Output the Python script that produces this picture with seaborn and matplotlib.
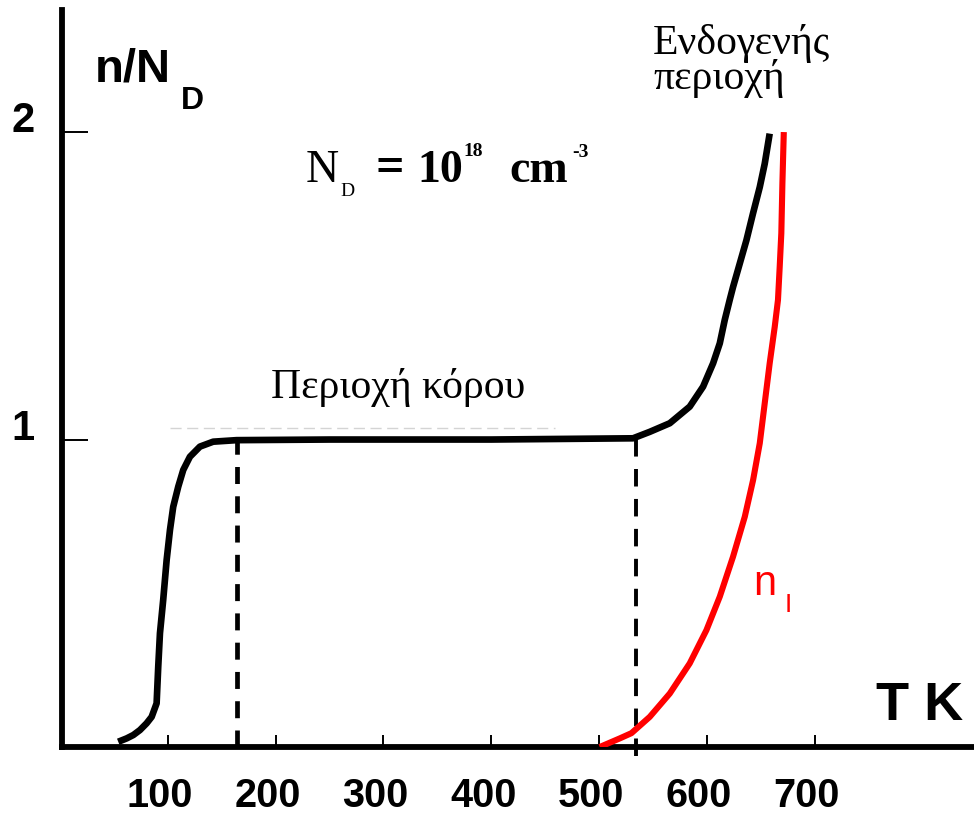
import matplotlib
matplotlib.use("Agg")
import matplotlib.pyplot as plt
import matplotlib.transforms as mtransforms
import seaborn as sns

# ---- data ----
T_black = [53.9, 61.7, 67.9, 74.0, 80.2, 84.9, 89.5, 91.0, 92.6, 95.6, 98.8, 101.9, 104.9,
           109.6, 114.2, 120.4, 129.7, 142.0, 163.7, 250.0, 400.0, 531.6, 547.1, 565.7,
           584.2, 596.6, 605.9, 612.1, 616.7, 621.3, 624.4, 630.6, 636.8, 642.9, 649.2,
           653.8, 658.4]
n_black = [0.017, 0.028, 0.039, 0.055, 0.077, 0.098, 0.142, 0.261, 0.370, 0.478, 0.608,
           0.706, 0.781, 0.847, 0.901, 0.944, 0.977, 0.993, 0.998, 1.0, 1.0, 1.004, 1.025,
           1.053, 1.107, 1.172, 1.248, 1.313, 1.389, 1.454, 1.496, 1.572, 1.648, 1.735,
           1.821, 1.897, 1.995]

T_red = [500.7, 519.3, 530.1, 547.1, 565.7, 584.2, 599.7, 612.1, 624.4, 635.3, 643.0,
         649.2, 653.8, 658.4, 663.1, 666.1, 667.7, 669.2, 670.2, 671.5]
n_red = [0.0, 0.028, 0.045, 0.098, 0.174, 0.272, 0.380, 0.489, 0.619, 0.749, 0.868,
         0.988, 1.118, 1.248, 1.367, 1.454, 1.562, 1.671, 1.833, 2.0]

T_faint = [102.0, 459.0]
n_faint = [1.037, 1.037]

T_bounds = [164.0, 534.0]          # dashed region borders
x_ticks = [100, 200, 300, 400, 500, 600, 700]
x_ticklabels = ["100", "200", "300", "400", "500", "600", "700"]
y_ticks = [1, 2]
y_ticklabels = ["1", "2"]

W, H = 974, 814
sns.set_theme(style="white")
plt.rcParams["font.family"] = ["Liberation Sans", "DejaVu Sans"]
plt.rcParams["text.color"] = "black"
plt.rcParams["xtick.color"] = "black"
plt.rcParams["ytick.color"] = "black"

fig = plt.figure(figsize=(W / 100, H / 100), dpi=100)
ax = fig.add_axes([62 / W, 67 / H, 912 / W, 737 / H])
ax.set_xlim(1.7, 848)
ax.set_ylim(0, 2.397)

for s in ["top", "right"]:
    ax.spines[s].set_visible(False)
for s in ["left", "bottom"]:
    ax.spines[s].set_color("black")
    ax.spines[s].set_linewidth(4.2)
    ax.spines[s].set_capstyle("projecting")

# faint gray dashed guide
ax.plot(T_faint, n_faint, color="#d4d4d4", lw=1.0, dashes=(8, 4), zorder=1)

# dashed vertical borders
ax.vlines(T_bounds[0], 0, 1.0, colors="black", lw=3.4, linestyles=(0, (3.6, 2.6)), zorder=2)
ax.vlines(T_bounds[1], -0.028, 1.0, colors="black", lw=2.8, linestyles=(0, (4.5, 3.2)),
          zorder=2, clip_on=False)

sns.lineplot(x=T_black, y=n_black, color="black", lw=4.8, sort=False, estimator=None,
             ax=ax, zorder=4)
sns.lineplot(x=T_red, y=n_red, color="#ff0000", lw=4.4, sort=False, estimator=None,
             ax=ax, zorder=3)
for l in ax.lines:
    l.set_solid_capstyle("butt")
    l.set_solid_joinstyle("round")

ax.set_xlabel("")
ax.set_ylabel("")
ax.set_xticks(x_ticks)
ax.set_xticklabels(x_ticklabels, fontsize=28.5, fontweight="bold", family="Liberation Sans",
                   color="black")
ax.set_yticks(y_ticks)
ax.set_yticklabels(y_ticklabels, fontsize=30, fontweight="bold", family="Liberation Sans",
                   color="black")
ax.tick_params(axis="x", direction="in", length=8.5, width=1.4, color="black", pad=21.5,
               bottom=True)
ax.tick_params(axis="y", direction="in", length=19, width=1.4, color="black", pad=20,
               left=True)
for lab in ax.get_yticklabels():
    lab.set_va("baseline")
off = mtransforms.ScaledTranslation(-8 / 100, 0, fig.dpi_scale_trans)
for lab in ax.get_xticklabels():
    lab.set_transform(lab.get_transform() + off)


def ftxt(x, y, s, **kw):
    kw.setdefault("color", "black")
    kw.setdefault("va", "baseline")
    fig.text(x / W, 1 - y / H, s, ha="left", **kw)


# axis titles
ftxt(95, 81, "n/N", fontsize=34, fontweight="bold", family="Liberation Sans")
ftxt(181, 109, "D", fontsize=23, fontweight="bold", family="Liberation Sans")
ftxt(876, 720, "T K", fontsize=39, fontweight="bold", family="Liberation Sans")

# N_D = 10^18 cm^-3
serif = "Liberation Serif"
ftxt(306, 182, "N", fontsize=33, family=serif)
ftxt(340, 196, "D", fontsize=14, family=serif)
ftxt(376, 181, "=", fontsize=36, fontweight="bold", family=serif)
ftxt(417, 182, "10", fontsize=33, fontweight="bold", family=serif)
ftxt(463, 156, "18", fontsize=14, fontweight="bold", family=serif)
ftxt(509, 182, "cm", fontsize=33, fontweight="bold", family=serif)
ftxt(572, 157, "-3", fontsize=14, fontweight="bold", family=serif)

# region labels
ftxt(271, 398, "Περιοχή κόρου", fontsize=30, family=serif)
ftxt(653, 24, "Ενδογενής\nπεριοχή", fontsize=30, family=serif, va="top",
     linespacing=0.86)

# n_i label
ftxt(753, 595, "n", fontsize=30, color="#ff0000", family="Liberation Sans")
ftxt(785, 612, "I", fontsize=19, color="#ff0000", family="Liberation Sans")

fig.savefig("out.png", dpi=100, facecolor="white")
